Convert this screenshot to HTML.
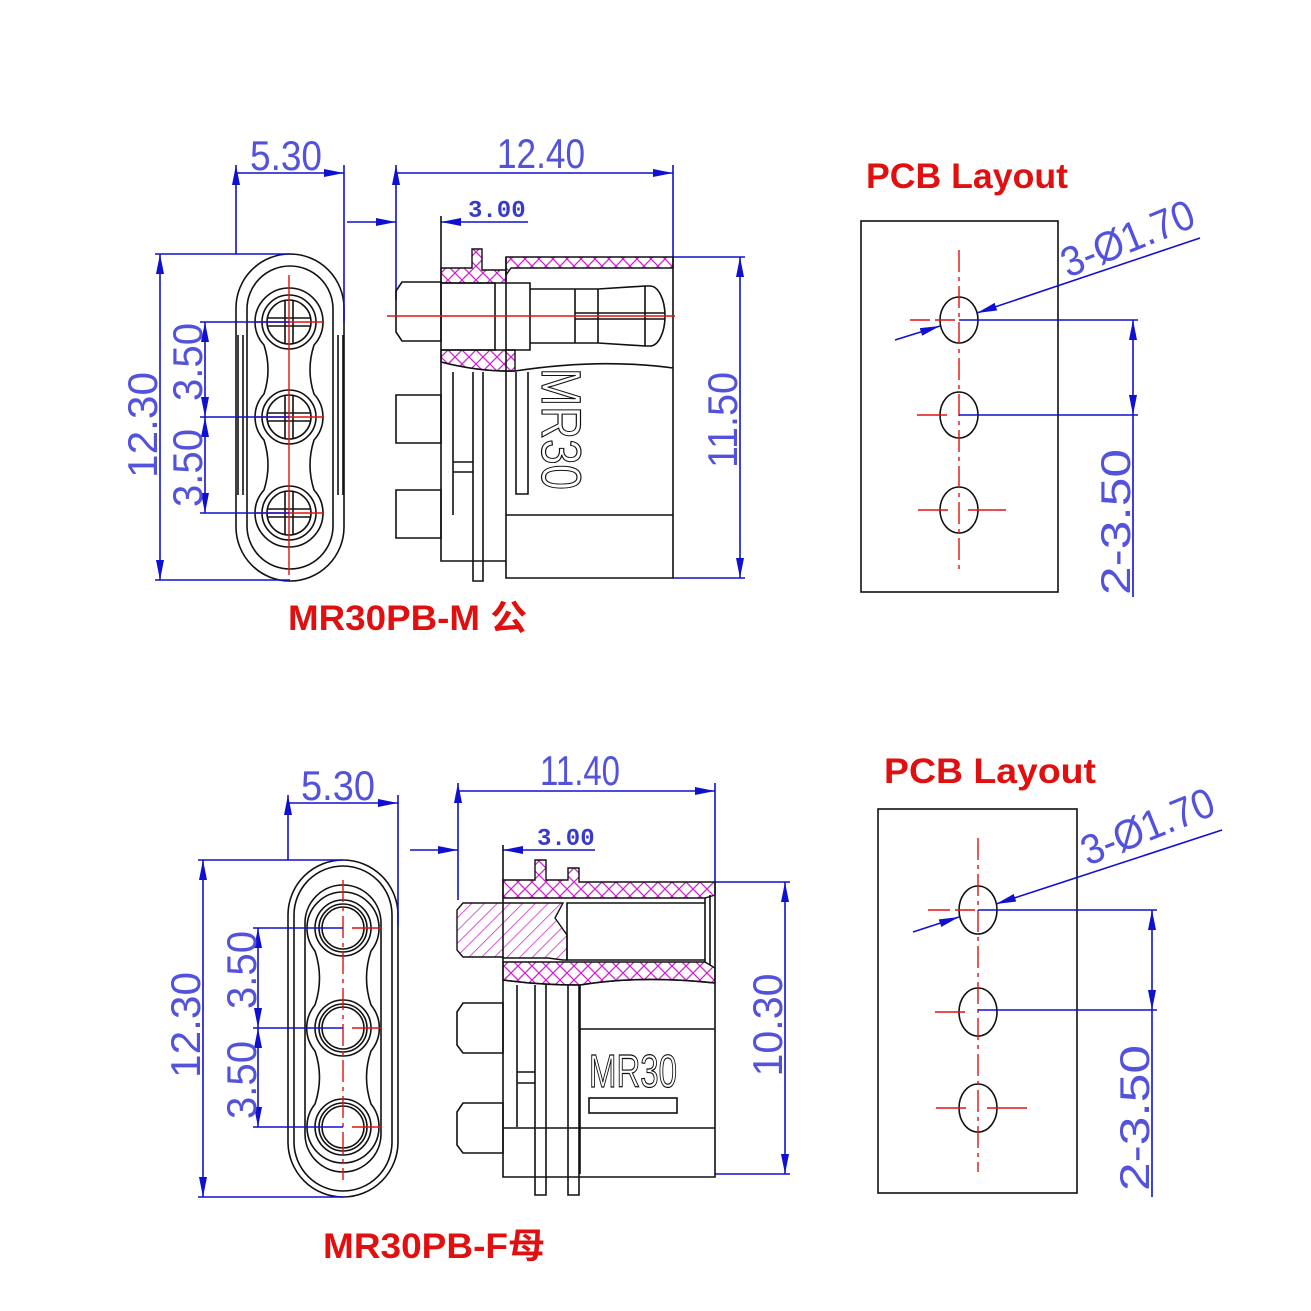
<!DOCTYPE html>
<html><head><meta charset="utf-8"><style>
html,body{margin:0;padding:0;background:#fff}
svg{display:block}
.b{stroke:#1010d0;stroke-width:1.6;fill:none}
.k{stroke:#111;stroke-width:1.6;fill:none}
.r{stroke:#e01010;stroke-width:1.4;fill:none}
.rd{stroke:#e01010;stroke-width:1.4;fill:none;stroke-dasharray:22 5 4 5}
.dt{fill:#5252dc;font-family:"Liberation Sans",sans-serif;font-size:42px}
.lb{fill:#e01010;font-family:"Liberation Sans","Noto Sans CJK SC",sans-serif;font-weight:bold;font-size:35px}
.h{fill:url(#x);stroke:#111;stroke-width:1.4}
.hd{fill:url(#d);stroke:#111;stroke-width:1.4}
</style></head><body>
<svg width="1311" height="1311" viewBox="0 0 1311 1311" xmlns="http://www.w3.org/2000/svg">
<defs>
<marker id="a" viewBox="0 0 20 8" refX="20" refY="4" markerWidth="20" markerHeight="8" markerUnits="userSpaceOnUse" orient="auto-start-reverse"><path d="M0,0 L20,4 L0,8z" fill="#1010d0"/></marker>
<pattern id="x" width="14" height="14" patternUnits="userSpaceOnUse"><path d="M0,0 L14,14 M14,0 L0,14" stroke="#d020d0" stroke-width="1.3"/></pattern>
<pattern id="d" width="9" height="9" patternUnits="userSpaceOnUse" patternTransform="rotate(45)"><path d="M0,0 L0,9" stroke="#d020d0" stroke-width="1.5"/></pattern>
</defs>

<!-- ===== TOP FRONT VIEW ===== -->
<rect class="k" x="236" y="254" width="108" height="327" rx="54" ry="54"/>
<rect class="k" x="247" y="266" width="86" height="303" rx="43" ry="43"/>
<path class="k" d="M255,322 A34,34 0 0 1 323,322 A34,34 0 0 1 314,345 Q306,370 314,394 A34,34 0 0 1 314,440 Q306,465 314,490 A34,34 0 0 1 323,513 A34,34 0 0 1 255,513 A34,34 0 0 1 264,490 Q272,465 264,440 A34,34 0 0 1 264,394 Q272,370 264,345 A34,34 0 0 1 255,322 Z"/>
<g class="k">
<circle cx="289" cy="322" r="27"/><circle cx="289" cy="322" r="22"/>
<circle cx="289" cy="417" r="27"/><circle cx="289" cy="417" r="22"/>
<circle cx="289" cy="513" r="27"/><circle cx="289" cy="513" r="22"/>
<path d="M285,300v44M293,300v44M267,318h44M267,326h44 M285,395v44M293,395v44M267,413h44M267,421h44 M285,491v44M293,491v44M267,509h44M267,517h44"/>
<path d="M238,335v160M243,335v160M338,335v160M343,335v160"/>
</g>
<path class="r" d="M289,275V575 M255,322h68M255,417h68M255,513h68"/>
<!-- dims -->
<path class="b" d="M236,165V254 M344,165V322 M236,173H344" marker-start="url(#a)" marker-end="url(#a)"/>
<text class="dt" x="250" y="170" textLength="72" lengthAdjust="spacingAndGlyphs">5.30</text>
<path class="b" d="M155,254H290 M155,580H290"/>
<path class="b" d="M160,254V580" marker-start="url(#a)" marker-end="url(#a)"/>
<text class="dt" transform="translate(157,425) rotate(-90)" text-anchor="middle" textLength="106" lengthAdjust="spacingAndGlyphs">12.30</text>
<path class="b" d="M200,322H289 M200,417H289 M200,513H289"/>
<path class="b" d="M205,322V417" marker-start="url(#a)" marker-end="url(#a)"/>
<path class="b" d="M205,417V513" marker-start="url(#a)" marker-end="url(#a)"/>
<text class="dt" transform="translate(202,362) rotate(-90)" text-anchor="middle" textLength="78" lengthAdjust="spacingAndGlyphs">3.50</text>
<text class="dt" transform="translate(202,468) rotate(-90)" text-anchor="middle" textLength="78" lengthAdjust="spacingAndGlyphs">3.50</text>
<text class="lb" x="288" y="630" textLength="239" lengthAdjust="spacingAndGlyphs">MR30PB-M 公</text>

<!-- ===== TOP SIDE VIEW ===== -->
<path class="b" d="M396,165V300 M673,165V257 M396,173H673" marker-start="url(#a)" marker-end="url(#a)"/>
<text class="dt" x="497" y="168" textLength="88" lengthAdjust="spacingAndGlyphs">12.40</text>
<path class="b" d="M347,222H396" marker-end="url(#a)"/>
<path class="b" d="M528,222H441" marker-end="url(#a)"/>
<text x="468" y="217" style="fill:#3a3ac8;font-family:'Liberation Mono',monospace;font-weight:bold;font-size:24px">3.00</text>
<path class="b" d="M673,257H745 M673,578H745"/>
<path class="b" d="M740,257V578" marker-start="url(#a)" marker-end="url(#a)"/>
<text class="dt" transform="translate(737,420) rotate(-90)" text-anchor="middle" textLength="96" lengthAdjust="spacingAndGlyphs">11.50</text>
<!-- body -->
<path class="h" d="M506,257H673V268H511L506,275Z"/>
<path class="h" d="M441,268H472V249H482V270H506V283H441Z"/>
<path class="h" d="M441,350H515V371Q480,372 441,362Z"/>
<path class="k" d="M441,216V561H506 M506,257V578H673V257 M441,362Q480,372 515,371Q600,358 673,368 M506,515H673"/>
<path class="k" d="M473,372V581H483V372 M453,372V515 M453,462H473 M453,472H473 M516,372V494H528V372"/>
<path class="k" d="M396,395H441V443H396V404Z M396,490H441V538H396V499Z M396,291L402,282H441V341H402L396,332Z"/>
<path class="k" d="M441,283H495V350H441 M506,283H530V350H506 M530,289H575V343H530 M575,289H598L645,286H650A15,30 0 0 1 650,346H645L598,343H575 M598,289V343 M645,286V346 M575,313H665 M575,319H665"/>
<text x="542" y="368" transform="rotate(90 542 368)" textLength="122" lengthAdjust="spacingAndGlyphs" style="fill:none;stroke:#111;stroke-width:1.2;font-family:'Liberation Sans',sans-serif;font-size:56px">MR30</text>
<path class="r" d="M387,316H675"/>

<!-- ===== TOP PCB ===== -->
<text class="lb" x="866" y="188" textLength="202" lengthAdjust="spacingAndGlyphs">PCB Layout</text>
<rect class="k" x="861" y="221" width="197" height="371"/>
<g class="k"><ellipse cx="959" cy="320" rx="19" ry="23"/><ellipse cx="959" cy="415" rx="19" ry="23"/><ellipse cx="959" cy="510" rx="19" ry="23"/></g>
<path class="rd" d="M959,250V572"/>
<path class="r" d="M910,320h20 M935,320h20 M917,415h30 M918,510h30 M968,510h38"/>
<path class="b" d="M959,320H1138 M959,415H1138"/>
<path class="b" d="M1133,320V415" marker-start="url(#a)" marker-end="url(#a)"/>
<path class="b" d="M1133,415V597"/>
<text class="dt" transform="translate(1130,522) rotate(-90)" text-anchor="middle" textLength="146" lengthAdjust="spacingAndGlyphs">2-3.50</text>
<path class="b" d="M1200,238L977,313" marker-end="url(#a)"/>
<path class="b" d="M895,340L940,326" marker-end="url(#a)"/>
<text class="dt" transform="translate(1068,278) rotate(-22)" textLength="140" lengthAdjust="spacingAndGlyphs">3-Ø1.70</text>

<!-- ===== BOTTOM FRONT VIEW ===== -->
<rect class="k" x="288" y="860" width="110" height="337" rx="55" ry="55"/>
<rect class="k" x="294" y="866" width="98" height="325" rx="49" ry="49"/>
<rect class="k" x="305" y="885" width="76" height="287" rx="38" ry="38"/>
<path class="k" d="M307,928 A36,36 0 0 1 379,928 A36,36 0 0 1 371,951 Q362,978 371,1005 A36,36 0 0 1 371,1051 Q362,1077 371,1104 A36,36 0 0 1 379,1127 A36,36 0 0 1 307,1127 A36,36 0 0 1 315,1104 Q324,1077 315,1051 A36,36 0 0 1 315,1005 Q324,978 315,951 A36,36 0 0 1 307,928 Z"/>
<g class="k">
<circle cx="343" cy="928" r="28"/><circle cx="343" cy="928" r="24"/><circle cx="343" cy="928" r="21"/>
<circle cx="343" cy="1028" r="28"/><circle cx="343" cy="1028" r="24"/><circle cx="343" cy="1028" r="21"/>
<circle cx="343" cy="1127" r="28"/><circle cx="343" cy="1127" r="24"/><circle cx="343" cy="1127" r="21"/>
</g>
<path class="rd" d="M343,880V1180"/>
<path class="r" d="M352,928h30 M352,1028h30 M352,1127h30"/>
<path class="b" d="M288,795V860 M398,795V925 M288,803H398" marker-start="url(#a)" marker-end="url(#a)"/>
<text class="dt" x="301" y="800" textLength="74" lengthAdjust="spacingAndGlyphs">5.30</text>
<path class="b" d="M198,860H343 M198,1197H343"/>
<path class="b" d="M203,860V1197" marker-start="url(#a)" marker-end="url(#a)"/>
<text class="dt" transform="translate(200,1025) rotate(-90)" text-anchor="middle" textLength="106" lengthAdjust="spacingAndGlyphs">12.30</text>
<path class="b" d="M253,928H343 M253,1028H343 M253,1127H343"/>
<path class="b" d="M258,928V1028" marker-start="url(#a)" marker-end="url(#a)"/>
<path class="b" d="M258,1028V1127" marker-start="url(#a)" marker-end="url(#a)"/>
<text class="dt" transform="translate(256,970) rotate(-90)" text-anchor="middle" textLength="78" lengthAdjust="spacingAndGlyphs">3.50</text>
<text class="dt" transform="translate(256,1080) rotate(-90)" text-anchor="middle" textLength="78" lengthAdjust="spacingAndGlyphs">3.50</text>
<text class="lb" x="323" y="1258" textLength="222" lengthAdjust="spacingAndGlyphs">MR30PB-F母</text>

<!-- ===== BOTTOM SIDE VIEW ===== -->
<path class="b" d="M458,783V900 M715,783V882 M458,791H715" marker-start="url(#a)" marker-end="url(#a)"/>
<text class="dt" x="540" y="785" textLength="80" lengthAdjust="spacingAndGlyphs">11.40</text>
<path class="b" d="M410,850H458" marker-end="url(#a)"/>
<path class="b" d="M595,850H503" marker-end="url(#a)"/>
<text x="537" y="845" style="fill:#3a3ac8;font-family:'Liberation Mono',monospace;font-weight:bold;font-size:24px">3.00</text>
<path class="b" d="M715,882H790 M715,1174H790"/>
<path class="b" d="M785,882V1174" marker-start="url(#a)" marker-end="url(#a)"/>
<text class="dt" transform="translate(782,1025) rotate(-90)" text-anchor="middle" textLength="103" lengthAdjust="spacingAndGlyphs">10.30</text>
<path class="h" d="M503,880H535V860H546V880H568V868H579V882H715V895L705,898H503Z"/>
<path class="h" d="M503,962H705L715,968V983Q640,975 580,985Q540,985 503,980Z"/>
<path class="hd" d="M463,903H563L555,918L567,935V960H563L548,958H503V957H463L457,950V910Z"/>
<path class="k" d="M567,903H705V960H567Z M705,898V962 M710,895V965"/>
<path class="k" d="M503,845V1177H715V882 M503,980Q540,985 580,985Q640,975 715,983 M580,985V1174 M580,1029H715 M503,1128H715 M517,985V1127 M517,1072H535 M517,1083H535"/>
<path class="k" d="M535,985V1195H546V985 M568,985V1195H579V985"/>
<path class="k" d="M457,1012L463,1003H503V1053H463L457,1045Z M457,1112L463,1103H503V1153H463L457,1145Z"/>
<text x="589" y="1087" textLength="88" lengthAdjust="spacingAndGlyphs" style="fill:none;stroke:#111;stroke-width:1.2;font-family:'Liberation Sans',sans-serif;font-size:46px">MR30</text>
<rect class="k" x="589" y="1098" width="88" height="15"/>

<!-- ===== BOTTOM PCB ===== -->
<text class="lb" x="884" y="783" textLength="212" lengthAdjust="spacingAndGlyphs">PCB  Layout</text>
<rect class="k" x="878" y="809" width="199" height="384"/>
<g class="k"><ellipse cx="978" cy="910" rx="19" ry="24"/><ellipse cx="978" cy="1012" rx="19" ry="24"/><ellipse cx="978" cy="1108" rx="19" ry="24"/></g>
<path class="rd" d="M978,838V1172"/>
<path class="r" d="M928,910h22 M955,910h20 M935,1012h30 M936,1108h30 M987,1108h40"/>
<path class="b" d="M978,910H1157 M978,1010H1157"/>
<path class="b" d="M1152,910V1010" marker-start="url(#a)" marker-end="url(#a)"/>
<path class="b" d="M1152,1010V1197"/>
<text class="dt" transform="translate(1149,1118) rotate(-90)" text-anchor="middle" textLength="146" lengthAdjust="spacingAndGlyphs">2-3.50</text>
<path class="b" d="M1222,830L996,904" marker-end="url(#a)"/>
<path class="b" d="M913,932L959,917" marker-end="url(#a)"/>
<text class="dt" transform="translate(1088,866) rotate(-22)" textLength="140" lengthAdjust="spacingAndGlyphs">3-Ø1.70</text>
</svg>
</body></html>
